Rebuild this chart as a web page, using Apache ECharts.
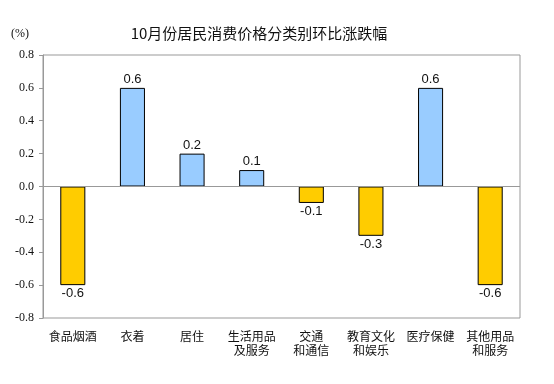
<!DOCTYPE html>
<html>
<head>
<meta charset="utf-8">
<script src="https://cdn.jsdelivr.net/npm/echarts@6/dist/echarts.min.js"></script>
<style>html,body{margin:0;padding:0;background:#fff;}#c{width:554px;height:384px;}</style>
</head>
<body>
<div id="c"></div>
<script>
var titleText = '10月份居民消费价格分类别环比涨跌幅';
var unitText = '(%)';
var categories = ['食品烟酒', '衣着', '居住', '生活用品\n及服务', '交通\n和通信', '教育文化\n和娱乐', '医疗保健', '其他用品\n和服务'];
var values = [-0.6, 0.6, 0.2, 0.1, -0.1, -0.3, 0.6, -0.6];
var yTicks = [-0.8, -0.6, -0.4, -0.2, 0.0, 0.2, 0.4, 0.6, 0.8];

var posColor = '#99CCFF';
var negColor = '#FFCC00';

var chart = echarts.init(document.getElementById('c'), null, {renderer: 'canvas'});
var data = values.map(function (v) {
  return {
    value: v,
    itemStyle: {color: v >= 0 ? posColor : negColor},
    label: {position: v >= 0 ? 'top' : 'bottom'}
  };
});
chart.setOption({
  animation: false,
  backgroundColor: '#fff',
  title: [{
    text: titleText,
    left: 254, top: 21, textAlign: 'center',
    textStyle: {fontFamily: 'Noto Sans CJK SC', fontSize: 15, fontWeight: 'normal', color: '#111'}
  }, {
    text: unitText,
    left: 6, top: 23,
    textStyle: {fontFamily: 'Liberation Serif', fontSize: 12, fontWeight: 'normal', color: '#111'}
  }],
  grid: {left: 43, right: 34, top: 55, bottom: 66, show: true, borderColor: '#999', borderWidth: 1, backgroundColor: 'transparent'},
  xAxis: {
    type: 'category',
    data: categories,
    position: 'bottom',
    axisLine: {show: false, onZero: false},
    axisTick: {show: false},
    axisLabel: {
      interval: 0, margin: 11, color: '#111',
      fontFamily: 'Noto Sans CJK SC', fontSize: 12, lineHeight: 14
    },
    splitLine: {show: false}
  },
  yAxis: {
    type: 'value',
    min: yTicks[0], max: yTicks[yTicks.length - 1], interval: 0.2,
    axisLine: {show: true, lineStyle: {color: '#999'}},
    axisTick: {show: true, inside: false, length: 4, lineStyle: {color: '#999'}},
    axisLabel: {
      margin: 9, color: '#111', fontFamily: 'Liberation Serif', fontSize: 12,
      formatter: function (v) { return v.toFixed(1); }
    },
    splitLine: {show: false}
  },
  series: [{
    type: 'bar',
    data: data,
    barWidth: '42%',
    itemStyle: {borderColor: '#000', borderWidth: 1},
    label: {
      show: true, distance: 2, color: '#111',
      fontFamily: 'Liberation Sans', fontSize: 13,
      formatter: function (p) { return p.value.toFixed(1); }
    },
    markLine: {
      silent: true, symbol: 'none', label: {show: false},
      lineStyle: {color: '#999', type: 'solid', width: 1},
      data: [{yAxis: 0}]
    }
  }]
});
</script>
</body>
</html>
